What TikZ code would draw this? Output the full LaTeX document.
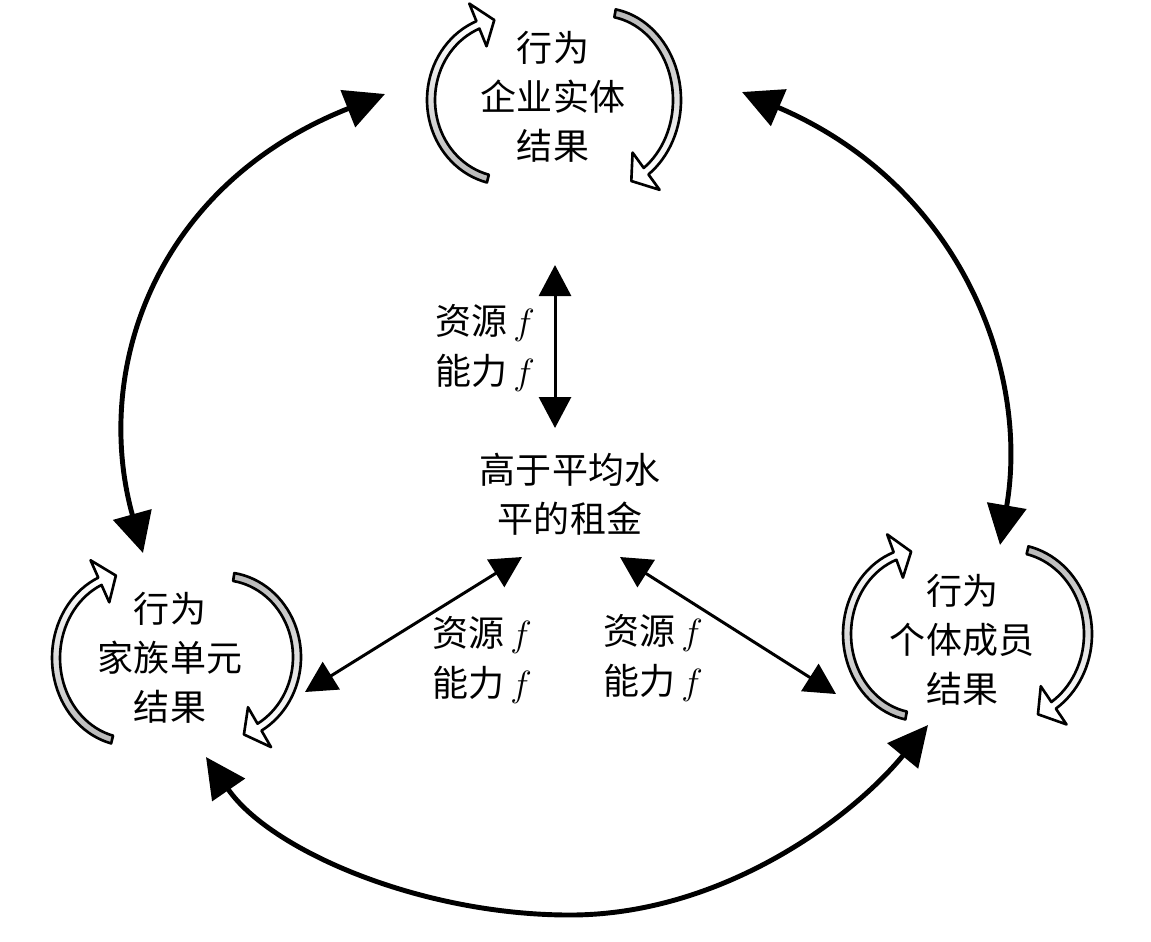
\documentclass[tikz,border=0pt]{standalone}
\usepackage{fontspec}
\newfontfamily\cjk{Noto Sans CJK SC}
\usetikzlibrary{arrows.meta}

%% freccia ciclica: centro, semiassi, angolo iniziale, base punta, vertice punta, sfumatura
\newcommand{\frecciaciclo}[8]{%
	\begin{scope}[shift={(#1,#2)}]
		\path[#8] plot[domain=#5:#6, samples=40] ({(#3+4)*cos(\x)},{(#4+4)*sin(\x)})
			-- plot[domain=#6:#5, samples=40] ({(#3-4)*cos(\x)},{(#4-4)*sin(\x)}) -- cycle;
		\draw[ciclo] plot[domain=#5:#6, samples=40] ({(#3+4)*cos(\x)},{(#4+4)*sin(\x)})
			-- ({(#3+23)*cos(#6)},{(#4+23)*sin(#6)})
			-- ({#3*cos(#7)},{#4*sin(#7)})
			-- ({(#3-23)*cos(#6)},{(#4-23)*sin(#6)})
			-- plot[domain=#6:#5, samples=40] ({(#3-4)*cos(\x)},{(#4-4)*sin(\x)}) -- cycle;
	\end{scope}}

\begin{document}
\begin{tikzpicture}[
		x=0.02cm, y=-0.02cm,
		testo/.style={font=\cjk\fontsize{20.5}{28}\selectfont, align=center, inner sep=0pt},
		frecciona/.style={{Triangle[length=0.8cm,width=0.78cm]}-{Triangle[length=0.8cm,width=0.78cm]},
			line width=2.8pt},
		freccia/.style={{Triangle[length=0.62cm,width=0.64cm]}-{Triangle[length=0.62cm,width=0.64cm]},
			line width=1.7pt},
		ciclo/.style={line width=1.5pt, line join=round},
		sfumaS/.style={top color=white, bottom color=gray!55},
		sfumaD/.style={top color=gray!55, bottom color=white}]
	\useasboundingbox (0,0) rectangle (1151,941);
	
	%% blocchi di testo
	\node[testo] (firm) at (553,97) {行为\\企业实体\\结果};
	\node[testo] (family) at (170,658) {行为\\家族单元\\结果};
	\node[testo] (member) at (962,640) {行为\\个体成员\\结果};
	\node[testo] (rent) at (570,494) {高于平均水\\平的租金};
	
	\node[testo] (lblV) at (485,348) {资源\,$f$\\能力\,$f$};
	\node[testo] (lblL) at (482,660) {资源\,$f$\\能力\,$f$};
	\node[testo] (lblR) at (653,658) {资源\,$f$\\能力\,$f$};
	
	%% frecce cicliche
	\frecciaciclo{506}{100}{75}{81}{104}{248}{261}{sfumaS}
	\frecciaciclo{602}{100}{75}{88}{-80}{54}{67}{sfumaD}
	\frecciaciclo{130}{658}{74}{84}{104}{246}{259}{sfumaS}
	\frecciaciclo{222}{657}{75}{81}{-81}{60}{73}{sfumaD}
	\frecciaciclo{920}{634}{73}{83}{101}{250}{263}{sfumaS}
	\frecciaciclo{1010}{634}{78}{86}{-77}{56}{69}{sfumaD}
	
	%% archi esterni
	\draw[frecciona] ([shift={(-27,-105)}]family.center)
		.. controls (92,370) and (155,185) .. ([shift={(-168,-3)}]firm.center);
	\draw[frecciona] ([shift={(38,-95)}]member.center)
		.. controls (1030,370) and (960,185) .. ([shift={(189,-5)}]firm.center);
	\draw[frecciona] ([shift={(36,99)}]family.center)
		.. controls (270,850) and (420,915) .. (570,915)
		.. controls (720,915) and (850,820) .. ([shift={(-34,85)}]member.center);
	
	%% frecce verso la rendita
	\draw[freccia] ([shift={(2,168)}]firm.center) -- ([shift={(-15,-66)}]rent.center);
	\draw[freccia] ([shift={(135,34)}]family.center) -- ([shift={(-48,63)}]rent.center);
	\draw[freccia] ([shift={(-126,54)}]member.center) -- ([shift={(50,63)}]rent.center);
\end{tikzpicture}
\end{document}
